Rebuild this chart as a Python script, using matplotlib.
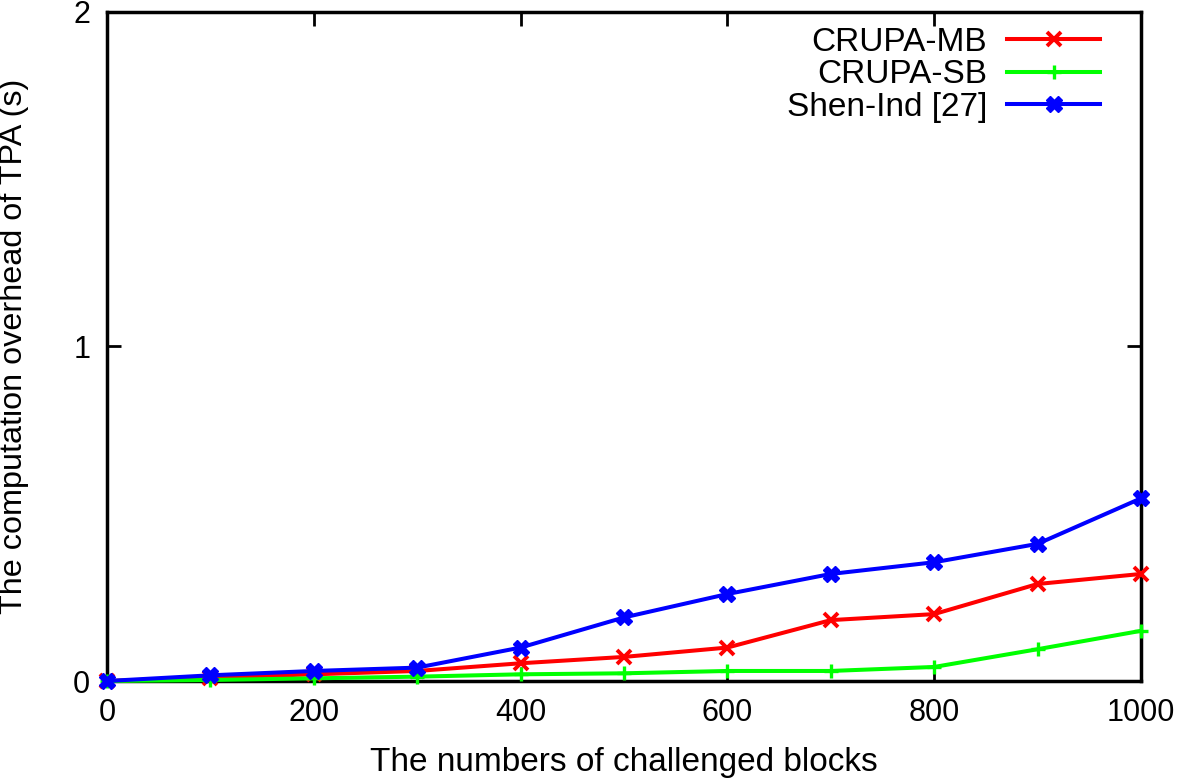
import matplotlib.pyplot as plt
import numpy as np

plt.rcParams['font.family'] = ['Liberation Sans', 'DejaVu Sans']

blocks = [0, 100, 200, 300, 400, 500, 600, 700, 800, 900, 1000]
crupa_mb = [0, 0.010, 0.020, 0.030, 0.053, 0.072, 0.100, 0.182, 0.200, 0.290, 0.320]
crupa_sb = [0, 0.003, 0.008, 0.013, 0.020, 0.023, 0.030, 0.030, 0.042, 0.095, 0.150]
shen_ind = [0, 0.017, 0.030, 0.040, 0.100, 0.190, 0.260, 0.320, 0.355, 0.410, 0.546]

fig = plt.figure(figsize=(11.81, 7.79), dpi=100)
ax = fig.add_axes([0.0906, 0.1258, 0.8755, 0.8588])

lw = 2.9
ax.plot(blocks, crupa_mb, color='#ff0000', lw=lw, marker='x', ms=10, mew=2.8,
        label='CRUPA-MB', clip_on=False, zorder=3)
ax.plot(blocks, crupa_sb, color='#00ff00', lw=lw, marker='+', ms=10, mew=2.4,
        label='CRUPA-SB', clip_on=False, zorder=3)
ax.plot(blocks, shen_ind, color='#0000ff', lw=lw, marker='X', ms=11, mew=1,
        label='Shen-Ind [27]', clip_on=False, zorder=4)

ax.set_xlim(0, 1000)
ax.set_ylim(0, 2)
ax.set_xticks(np.arange(0, 1001, 200))
ax.set_yticks([0, 1, 2])
ax.tick_params(direction='in', length=10, width=2, top=True, right=True,
               labelsize=22)
ax.tick_params(axis='x', pad=12)
ax.tick_params(axis='y', pad=12)
for s in ax.spines.values():
    s.set_linewidth(2.5)

ax.set_xlabel('The numbers of challenged blocks', fontsize=24, labelpad=14)
ax.set_ylabel('The computation overhead of TPA (s)', fontsize=23.3)
ax.yaxis.set_label_coords(-0.075, 0.5)

leg = ax.legend(loc='upper right', frameon=False, fontsize=24, markerfirst=False,
                handlelength=2.8, handletextpad=0.6, labelspacing=0.05,
                borderaxespad=0.2, bbox_to_anchor=(0.98, 1.008))

fig.savefig('out.png', dpi=100)
